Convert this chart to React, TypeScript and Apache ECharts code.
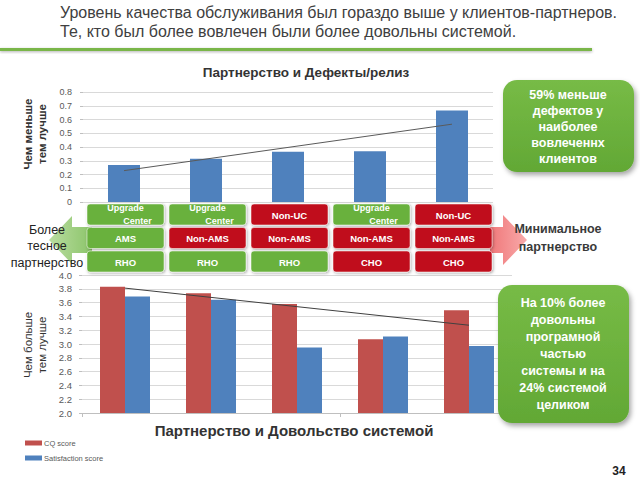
import React, { useEffect, useRef } from "react";
import * as echarts from "echarts";

const categories = [
  "UC + AMS + RHO",
  "UC + Non-AMS + RHO",
  "Non-UC + Non-AMS + RHO",
  "UC + Non-AMS + CHO",
  "Non-UC + Non-AMS + CHO",
];
const defectsPerRelease = [0.27, 0.315, 0.365, 0.37, 0.665];
const cqScore = [3.83, 3.735, 3.58, 3.07, 3.49];
const satisfactionScore = [3.69, 3.64, 2.95, 3.11, 2.97];

const row1Labels = ["Upgrade Center", "Upgrade Center", "Non-UC", "Upgrade Center", "Non-UC"];
const row2Labels = ["AMS", "Non-AMS", "Non-AMS", "Non-AMS", "Non-AMS"];
const row3Labels = ["RHO", "RHO", "RHO", "CHO", "CHO"];

const headerLines = [
  "Уровень качества обслуживания был гораздо выше у клиентов-партнеров.",
  "Те, кто был более вовлечен были более довольны системой.",
];
const topTitle = "Партнерство и Дефекты/релиз";
const bottomTitle = "Партнерство и Довольство системой";
const callout1 = "59% меньше\nдефектов у\nнаиболее\nвовлеченнх\nклиентов";
const callout2 = "На 10% более\nдовольны\nпрограмной\nчастью\nсистемы и на\n24% системой\nцеликом";

// Excel-style linear trendline of a series
function linearTrend(values: number[]): number[] {
  const n = values.length;
  const xs = values.map((_, i) => i + 1);
  const mx = xs.reduce((a, b) => a + b, 0) / n;
  const my = values.reduce((a, b) => a + b, 0) / n;
  let sxy = 0;
  let sxx = 0;
  for (let i = 0; i < n; i++) {
    sxy += (xs[i] - mx) * (values[i] - my);
    sxx += (xs[i] - mx) * (xs[i] - mx);
  }
  const slope = sxy / sxx;
  return xs.map((x) => +(my + slope * (x - mx)).toFixed(4));
}

const GREEN = "#69b13c";
const RED = "#c0101a";
const isGood = (s: string) => s === "Upgrade Center" || s === "AMS" || s === "RHO";

export default function App() {
  const ref = useRef<HTMLDivElement>(null);
  useEffect(() => {
    if (!ref.current) return;
    const chart = echarts.init(ref.current, null, { renderer: "svg" });

    const graphics: any[] = [];
    // header
    graphics.push({
      type: "text",
      left: 60,
      top: 3,
      z: 100,
      style: {
        text: headerLines.join("\n"),
        fill: "#404040",
        font: "16px 'Liberation Sans Narrow', 'Arial Narrow', 'Liberation Sans', sans-serif",
        lineHeight: 19,
      },
    });
    graphics.push({
      type: "rect",
      z: 100,
      shape: { x: 0, y: 48, width: 592, height: 3 },
      style: { fill: "#7ab648", shadowBlur: 3, shadowColor: "rgba(0,0,0,0.3)", shadowOffsetY: 1 },
    });
    // titles
    graphics.push({
      type: "text",
      x: 306,
      y: 72,
      z: 100,
      style: { text: topTitle, fill: "#333", font: "bold 13.5px 'Liberation Sans', Arial, sans-serif", align: "center", verticalAlign: "middle" },
    });
    graphics.push({
      type: "text",
      x: 294,
      y: 430,
      z: 100,
      style: { text: bottomTitle, fill: "#333", font: "bold 15px 'Liberation Sans', Arial, sans-serif", align: "center", verticalAlign: "middle" },
    });
    // rotated axis names
    graphics.push({
      type: "text",
      x: 35,
      y: 134,
      rotation: Math.PI / 2,
      z: 100,
      style: { text: "Чем меньше\nтем лучше", fill: "#333", font: "bold 11.5px 'Liberation Sans', Arial, sans-serif", align: "center", verticalAlign: "middle", lineHeight: 14 },
    });
    graphics.push({
      type: "text",
      x: 35,
      y: 345,
      rotation: Math.PI / 2,
      z: 100,
      style: { text: "Чем больше\nтем лучше", fill: "#333", font: "11.5px 'Liberation Sans', Arial, sans-serif", align: "center", verticalAlign: "middle", lineHeight: 14 },
    });
    // arrows
    graphics.push({
      type: "polygon",
      z: 90,
      shape: { points: [[92, 227], [72, 227], [72, 216], [49, 240], [72, 264], [72, 253], [92, 253]] },
      style: {
        fill: new echarts.graphic.LinearGradient(0, 0, 1, 0, [
          { offset: 0, color: "#b9dca0" },
          { offset: 1, color: "#8cc56a" },
        ]),
      },
    });
    graphics.push({
      type: "polygon",
      z: 90,
      shape: { points: [[490, 227], [503, 227], [503, 215], [527, 240], [503, 265], [503, 253], [490, 253]] },
      style: {
        fill: new echarts.graphic.LinearGradient(0, 0, 1, 0, [
          { offset: 0, color: "#f0787a" },
          { offset: 1, color: "#f8aaaa" },
        ]),
      },
    });
    graphics.push({
      type: "text",
      x: 47,
      y: 246,
      z: 101,
      style: { text: "Более\nтесное\nпартнерство", fill: "#222", font: "12.5px 'Liberation Sans', Arial, sans-serif", align: "center", verticalAlign: "middle", lineHeight: 16.5 },
    });
    graphics.push({
      type: "text",
      x: 558,
      y: 238,
      z: 101,
      style: { text: "Минимальное\nпартнерство", fill: "#3a3a3a", font: "bold 12.5px 'Liberation Sans', Arial, sans-serif", align: "center", verticalAlign: "middle", lineHeight: 18 },
    });
    // matrix cells
    const rows = [row1Labels, row2Labels, row3Labels];
    const rowTops = [204, 227.5, 251];
    const cellH = 21;
    for (let c = 0; c < categories.length; c++) {
      const x0 = 87 + c * 82;
      const w = 77;
      for (let r = 0; r < 3; r++) {
        const label = rows[r][c];
        graphics.push({
          type: "rect",
          z: 95,
          shape: { x: x0, y: rowTops[r], width: w, height: cellH, r: 3 },
          style: {
            fill: isGood(label) ? GREEN : RED,
            stroke: "rgba(255,255,255,0.5)",
            lineWidth: 1,
            shadowBlur: 3,
            shadowColor: "rgba(0,0,0,0.35)",
            shadowOffsetX: 1,
            shadowOffsetY: 1,
          },
        });
        const cx = x0 + w / 2;
        if (label === "Upgrade Center") {
          graphics.push({
            type: "text", x: cx, y: rowTops[r] + 4, z: 96,
            style: { text: "Upgrade", fill: "#fff", font: "bold 9px 'Liberation Sans', Arial, sans-serif", align: "center", verticalAlign: "middle" },
          });
          graphics.push({
            type: "text", x: cx + 12, y: rowTops[r] + 17, z: 96,
            style: { text: "Center", fill: "#fff", font: "bold 9px 'Liberation Sans', Arial, sans-serif", align: "center", verticalAlign: "middle" },
          });
        } else {
          graphics.push({
            type: "text", x: cx, y: rowTops[r] + cellH / 2 + 0.5, z: 96,
            style: { text: label, fill: "#fff", font: "bold 9.5px 'Liberation Sans', Arial, sans-serif", align: "center", verticalAlign: "middle" },
          });
        }
      }
    }
    // callouts
    const calloutFill = () =>
      new echarts.graphic.LinearGradient(0, 0, 0, 1, [
        { offset: 0, color: "#77bb46" },
        { offset: 1, color: "#62a835" },
      ]);
    graphics.push({
      type: "rect",
      z: 110,
      shape: { x: 503, y: 80, width: 131, height: 92, r: 14 },
      style: { fill: calloutFill(), shadowBlur: 5, shadowColor: "rgba(0,0,0,0.35)", shadowOffsetX: 2, shadowOffsetY: 3 },
    });
    graphics.push({
      type: "text",
      x: 568,
      y: 127,
      z: 111,
      style: { text: callout1, fill: "#fff", font: "bold 12.5px 'Liberation Sans', Arial, sans-serif", align: "center", verticalAlign: "middle", lineHeight: 16 },
    });
    graphics.push({
      type: "rect",
      z: 110,
      shape: { x: 498, y: 285, width: 131, height: 138, r: 14 },
      style: { fill: calloutFill(), shadowBlur: 5, shadowColor: "rgba(0,0,0,0.35)", shadowOffsetX: 2, shadowOffsetY: 3 },
    });
    graphics.push({
      type: "text",
      x: 563,
      y: 354,
      z: 111,
      style: { text: callout2, fill: "#fff", font: "bold 12.5px 'Liberation Sans', Arial, sans-serif", align: "center", verticalAlign: "middle", lineHeight: 17 },
    });
    // page number
    graphics.push({
      type: "text",
      x: 619,
      y: 471,
      z: 100,
      style: { text: "34", fill: "#222", font: "bold 12px 'Liberation Sans', Arial, sans-serif", align: "center", verticalAlign: "middle" },
    });

    const axisLabelBase = { color: "#595959", fontFamily: "'Liberation Sans', Arial, sans-serif" };

    chart.setOption({
      animation: false,
      backgroundColor: "#ffffff",
      grid: [
        { left: 83, top: 92, width: 410, height: 110 },
        { left: 82, top: 275, width: 430, height: 138 },
      ],
      legend: {
        orient: "vertical",
        left: 20,
        top: 434,
        itemWidth: 17,
        itemHeight: 5,
        itemGap: 7,
        data: ["CQ score", "Satisfaction score"],
        textStyle: { fontSize: 7.5, color: "#595959", padding: [0, 0, 0, -3] },
        icon: "rect",
      },
      xAxis: [
        {
          type: "category",
          gridIndex: 0,
          data: categories,
          axisLine: { show: false },
          axisTick: { show: false },
          axisLabel: { show: false },
        },
        {
          type: "category",
          gridIndex: 1,
          data: categories,
          axisLine: { show: true, lineStyle: { color: "#bfbfbf" } },
          axisTick: { show: true, length: 4, lineStyle: { color: "#bfbfbf" } },
          axisLabel: { show: false },
        },
      ],
      yAxis: [
        {
          type: "value",
          gridIndex: 0,
          min: 0,
          max: 0.8,
          interval: 0.1,
          axisLine: { show: false },
          axisTick: { show: true, length: 3, lineStyle: { color: "#bfbfbf" } },
          axisLabel: { ...axisLabelBase, fontSize: 9, margin: 11, formatter: (v: number) => (v === 0 ? "0" : v.toFixed(1)) },
          splitLine: { lineStyle: { color: "#d9d9d9" } },
        },
        {
          type: "value",
          gridIndex: 1,
          min: 2,
          max: 4,
          interval: 0.2,
          axisLine: { show: false },
          axisTick: { show: true, length: 3, lineStyle: { color: "#bfbfbf" } },
          axisLabel: { ...axisLabelBase, fontSize: 9.5, margin: 10, formatter: (v: number) => v.toFixed(1) },
          splitLine: { lineStyle: { color: "#d9d9d9" } },
        },
      ],
      series: [
        {
          name: "Defects per release",
          type: "bar",
          xAxisIndex: 0,
          yAxisIndex: 0,
          data: defectsPerRelease,
          barWidth: 32,
          itemStyle: { color: "#4f81bd" },
        },
        {
          name: "Defects trend",
          type: "line",
          xAxisIndex: 0,
          yAxisIndex: 0,
          data: linearTrend(defectsPerRelease),
          showSymbol: false,
          symbol: "none",
          lineStyle: { color: "#5a5a5a", width: 1 },
          z: 5,
        },
        {
          name: "CQ score",
          type: "bar",
          xAxisIndex: 1,
          yAxisIndex: 1,
          data: cqScore,
          barWidth: 25,
          barGap: "0%",
          itemStyle: { color: "#c0504d" },
        },
        {
          name: "Satisfaction score",
          type: "bar",
          xAxisIndex: 1,
          yAxisIndex: 1,
          data: satisfactionScore,
          barWidth: 25,
          barGap: "0%",
          itemStyle: { color: "#4f81bd" },
        },
        {
          name: "CQ trend",
          type: "line",
          xAxisIndex: 1,
          yAxisIndex: 1,
          data: linearTrend(cqScore),
          showSymbol: false,
          symbol: "none",
          lineStyle: { color: "#404040", width: 1 },
          z: 5,
        },
      ],
      graphic: graphics,
    });

    return () => chart.dispose();
  }, []);

  return (
    <div
      ref={ref}
      style={{ position: "absolute", left: 0, top: 0, width: 640, height: 480 }}
    />
  );
}
